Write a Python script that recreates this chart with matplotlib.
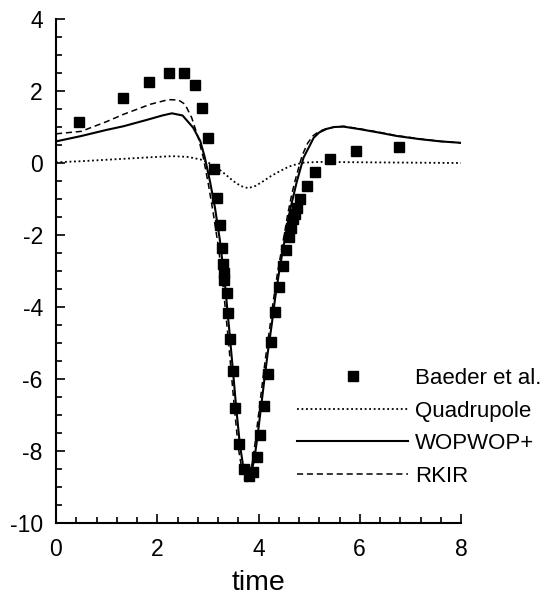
import matplotlib
matplotlib.use("Agg")
import matplotlib.pyplot as plt
from matplotlib.ticker import MultipleLocator

plt.rcParams['font.family'] = ['Liberation Sans', 'DejaVu Sans']
plt.rcParams['axes.unicode_minus'] = False

# Baeder et al. (experimental squares)
baeder_t = [0.46, 1.33, 1.84, 2.23, 2.52, 2.74, 2.89, 3.01, 3.12, 3.18, 3.23, 3.27,
            3.29, 3.31, 3.32, 3.37, 3.39, 3.43, 3.49, 3.54, 3.62, 3.72, 3.81, 3.89,
            3.97, 4.02, 4.10, 4.18, 4.25, 4.33, 4.41, 4.49, 4.55, 4.61, 4.65, 4.69,
            4.73, 4.77, 4.82, 4.95, 5.12, 5.42, 5.93, 6.78]
baeder_p = [1.14, 1.80, 2.25, 2.50, 2.50, 2.17, 1.52, 0.69, -0.18, -0.97, -1.73, -2.37,
            -2.81, -3.05, -3.26, -3.62, -4.18, -4.90, -5.78, -6.80, -7.80, -8.51, -8.69, -8.57,
            -8.18, -7.56, -6.75, -5.87, -4.97, -4.15, -3.44, -2.87, -2.42, -2.06, -1.80, -1.56,
            -1.41, -1.24, -1.01, -0.65, -0.26, 0.10, 0.32, 0.44]

# Quadrupole (dotted)
quad_t = [0.0, 0.5, 1.0, 1.5, 2.0, 2.3, 2.6, 2.85, 3.0, 3.18, 3.35, 3.5, 3.65, 3.8,
          3.95, 4.1, 4.25, 4.43, 4.6, 4.76, 4.9, 5.2, 6.0, 7.0, 8.0]
quad_p = [0.02, 0.05, 0.09, 0.13, 0.17, 0.19, 0.17, 0.10, 0.02, -0.13, -0.32, -0.50, -0.64, -0.70,
          -0.63, -0.50, -0.36, -0.22, -0.10, -0.03, 0.01, 0.03, 0.02, 0.01, 0.0]

# WOPWOP+ (solid)
wop_t = [0.0, 0.5, 1.0, 1.33, 1.8, 2.1, 2.29, 2.5, 2.71, 2.85, 2.94, 3.04, 3.14, 3.24,
         3.34, 3.43, 3.50, 3.56, 3.63, 3.70, 3.76, 3.80, 3.86, 3.92, 3.98, 4.04, 4.10,
         4.18, 4.26, 4.33, 4.41, 4.49, 4.56, 4.62, 4.70, 4.76, 4.89, 5.0, 5.09, 5.2,
         5.35, 5.5, 5.68, 6.0, 6.4, 6.73, 7.2, 7.6, 8.0]
wop_p = [0.60, 0.75, 0.92, 1.02, 1.20, 1.32, 1.38, 1.32, 0.98, 0.61, 0.15, -0.50, -1.24, -2.17,
         -3.40, -4.75, -5.85, -6.80, -7.80, -8.45, -8.78, -8.82, -8.60, -8.20, -7.60, -6.90, -6.20,
         -5.30, -4.50, -3.74, -3.00, -2.35, -1.80, -1.33, -0.85, -0.50, 0.15, 0.45, 0.70, 0.85,
         0.95, 1.00, 1.01, 0.94, 0.84, 0.75, 0.66, 0.60, 0.56]

# RKIR (dashed)
rkir_t = [0.0, 0.5, 1.0, 1.33, 1.86, 2.22, 2.42, 2.55, 2.68, 2.81, 2.91, 3.01, 3.11, 3.21,
          3.31, 3.40, 3.47, 3.53, 3.60, 3.67, 3.73, 3.77, 3.82, 3.88, 3.94, 4.00, 4.06,
          4.14, 4.22, 4.29, 4.37, 4.45, 4.52, 4.58, 4.66, 4.73, 4.86, 4.97, 5.08, 5.2,
          5.35, 5.5, 5.68, 6.0, 6.4, 6.73, 7.2, 7.6, 8.0]
rkir_p = [0.81, 0.88, 1.15, 1.35, 1.63, 1.76, 1.75, 1.63, 1.26, 0.70, 0.15, -0.59, -1.43, -2.35,
          -3.55, -4.85, -5.95, -6.90, -7.90, -8.50, -8.80, -8.85, -8.70, -8.30, -7.70, -7.00, -6.30,
          -5.40, -4.60, -3.85, -3.10, -2.45, -1.90, -1.40, -0.85, -0.45, 0.20, 0.55, 0.76, 0.88,
          0.96, 1.00, 1.02, 0.95, 0.85, 0.76, 0.67, 0.60, 0.56]

fig = plt.figure(figsize=(5.47, 5.98), dpi=100)
ax = fig.add_axes([56/547, 1 - 523/598, (461 - 56)/547, (523 - 19)/598])

ax.plot(baeder_t, baeder_p, linestyle='none', marker='s', markersize=7.5,
        color='black', label='Baeder et al.')
ax.plot(quad_t, quad_p, linestyle=(0, (1, 1.5)), linewidth=1.3, color='black', label='Quadrupole')
ax.plot(wop_t, wop_p, linestyle='-', linewidth=1.5, color='black', label='WOPWOP+')
ax.plot(rkir_t, rkir_p, linestyle=(0, (4, 2.5)), linewidth=1.1, color='black', label='RKIR')

ax.set_xlim(0, 8)
ax.set_ylim(-10, 4)
ax.xaxis.set_major_locator(MultipleLocator(2))
ax.xaxis.set_minor_locator(MultipleLocator(0.4))
ax.yaxis.set_major_locator(MultipleLocator(2))
ax.yaxis.set_minor_locator(MultipleLocator(0.5))

for s in ['top', 'right']:
    ax.spines[s].set_visible(False)
for s in ['left', 'bottom']:
    ax.spines[s].set_linewidth(1.5)

ax.tick_params(which='both', direction='in', top=False, right=False, width=1.2)
ax.tick_params(which='major', length=6.5, labelsize=16.5)
ax.tick_params(axis='y', which='major', pad=9.5)
ax.tick_params(axis='x', which='major', pad=11)
ax.tick_params(which='minor', length=4)

ax.set_xlabel('time', fontsize=20.5, labelpad=6)

leg = ax.legend(loc='upper left', bbox_to_anchor=(297/547, 1 - 368/598),
                bbox_transform=fig.transFigure, frameon=False, fontsize=16,
                handlelength=5.0, handletextpad=0.3, labelspacing=0.52,
                borderpad=0, borderaxespad=0, numpoints=1)

fig.savefig('out.png', dpi=100)
